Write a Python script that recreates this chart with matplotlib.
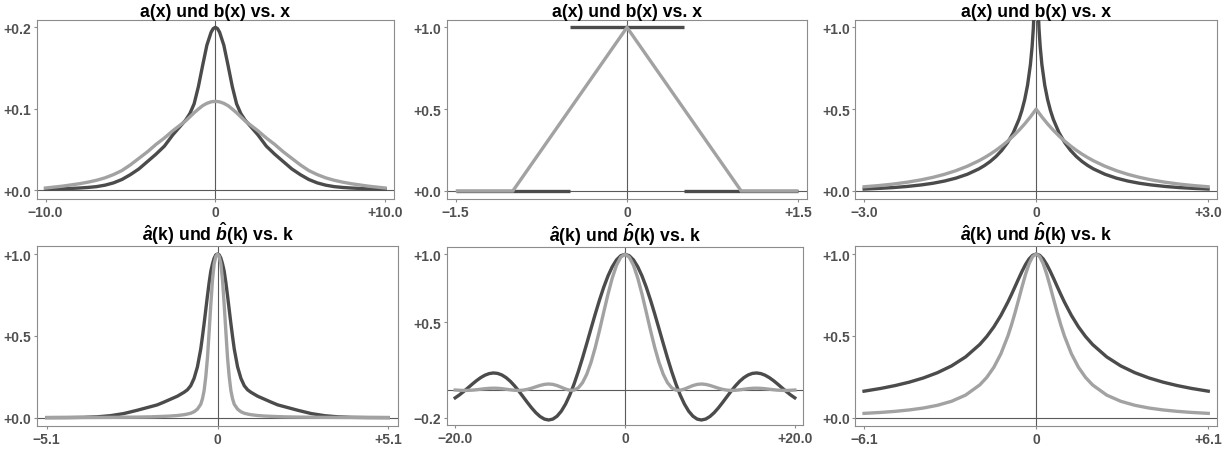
import numpy as np
import matplotlib
matplotlib.use('Agg')
import matplotlib.pyplot as plt

plt.rcParams['font.family'] = ['Liberation Sans', 'DejaVu Sans']
plt.rcParams['mathtext.fontset'] = 'custom'
plt.rcParams['mathtext.rm'] = 'Liberation Sans:bold'
plt.rcParams['mathtext.it'] = 'Liberation Sans:italic:bold'
plt.rcParams['mathtext.bf'] = 'Liberation Sans:bold'

# ---------------- data (even curves given for x >= 0, mirrored when drawn) ----------------
titles_top = ["a(x) und b(x) vs. x"] * 3
titles_bottom = [r"$\hat{a}$(k) und $\hat{b}$(k) vs. k"] * 3

# panel 1
p1_x = [0, 0.125, 0.25, 0.5, 0.75, 1.0, 1.25, 1.5, 1.75, 2.0, 2.5, 3.0, 3.5, 4.0, 4.5,
        5.0, 5.5, 6.0, 6.5, 7.0, 7.5, 8.0, 9.0, 10.0]
p1_a = [0.200, 0.1985, 0.194, 0.178, 0.153, 0.127, 0.106, 0.094, 0.086, 0.080, 0.068,
        0.054, 0.044, 0.035, 0.026, 0.019, 0.013, 0.0088, 0.0060, 0.0042, 0.0032,
        0.0025, 0.0015, 0.0010]
p1_b = [0.109, 0.1088, 0.1084, 0.1066, 0.1037, 0.0995, 0.095, 0.090, 0.085, 0.081,
        0.073, 0.064, 0.056, 0.047, 0.039, 0.031, 0.024, 0.019, 0.015, 0.012, 0.0097,
        0.0078, 0.0048, 0.0025]
p1_xticks = [-10, 0, 10]
p1_xlabels = ["\u221210.0", "0", "+10.0"]
p1_yticks = [0.0, 0.1, 0.2]
p1_ylabels = ["+0.0", "+0.1", "+0.2"]

# panel 2 (piecewise, None = break)
p2_a_x = [-1.5, -0.5, None, -0.5, 0.5, None, 0.5, 1.5]
p2_a_y = [0.0, 0.0, None, 1.0, 1.0, None, 0.0, 0.0]
p2_b_x = [-1.5, -1.0, 0.0, 1.0, 1.5]
p2_b_y = [0.0, 0.0, 1.0, 0.0, 0.0]
p2_xticks = [-1.5, 0, 1.5]
p2_xlabels = ["\u22121.5", "0", "+1.5"]
p2_yticks = [0.0, 0.5, 1.0]
p2_ylabels = ["+0.0", "+0.5", "+1.0"]

# panel 3
p3_ax = [0, 0.01, 0.02, 0.03, 0.05, 0.07, 0.1, 0.15, 0.2, 0.25, 0.3, 0.4, 0.5, 0.6, 0.7,
         0.8, 0.9, 1.0, 1.2, 1.4, 1.6, 1.8, 2.0, 2.25, 2.5, 2.75, 3.0]
p3_a = [None, 1.503, 1.282, 1.153, 0.9905, 0.885, 0.7726, 0.6462, 0.5579, 0.4907,
        0.4369, 0.3548, 0.2943, 0.2475, 0.2102, 0.1799, 0.1549, 0.1340, 0.1014, 0.0776,
        0.0598, 0.0464, 0.0363, 0.0268, 0.0198, 0.0148, 0.0110]
p3_bx = [0, 0.1, 0.2, 0.3, 0.4, 0.5, 0.6, 0.7, 0.8, 0.9, 1.0, 1.2, 1.4, 1.6, 1.8, 2.0,
         2.25, 2.5, 2.75, 3.0]
p3_b = [0.5, 0.4524, 0.4094, 0.3704, 0.3352, 0.3033, 0.2744, 0.2483, 0.2247, 0.2033,
        0.1839, 0.1506, 0.1233, 0.1009, 0.0826, 0.0677, 0.0527, 0.0410, 0.0320, 0.0249]
p3_xticks = [-3, 0, 3]
p3_xlabels = ["\u22123.0", "0", "+3.0"]
p3_yticks = [0.0, 0.5, 1.0]
p3_ylabels = ["+0.0", "+0.5", "+1.0"]

# panel 4
p4_k = [0, 0.05, 0.1, 0.15, 0.2, 0.25, 0.3, 0.35, 0.4, 0.45, 0.5, 0.6, 0.7, 0.8, 0.9,
        1.0, 1.2, 1.4, 1.6, 1.8, 2.0, 2.4, 2.8, 3.2, 3.6, 4.0, 4.5, 5.1]
p4_a = [1.0, 0.995, 0.975, 0.94, 0.895, 0.825, 0.745, 0.66, 0.575, 0.495, 0.42, 0.31,
        0.24, 0.195, 0.17, 0.155, 0.131, 0.113, 0.095, 0.078, 0.067, 0.045, 0.025,
        0.012, 0.005, 0.002, 0.0008, 0.0003]
p4_b = [1.0, 0.985, 0.94, 0.84, 0.69, 0.525, 0.365, 0.25, 0.165, 0.115, 0.082, 0.052,
        0.036, 0.027, 0.022, 0.018, 0.013, 0.010, 0.008, 0.0065, 0.005, 0.0035, 0.0025,
        0.0018, 0.0013, 0.001, 0.0007, 0.0005]
p4_xticks = [-5.1, 0, 5.1]
p4_xlabels = ["\u22125.1", "0", "+5.1"]
p4_yticks = [0.0, 0.5, 1.0]
p4_ylabels = ["+0.0", "+0.5", "+1.0"]

# panel 5
p5_k = [0, 0.5, 1, 1.5, 2, 2.5, 3, 3.5, 4, 4.5, 5, 5.5, 6, 6.5, 7, 7.5, 8, 8.5, 9, 9.5,
        10, 10.5, 11, 11.5, 12, 12.5, 13, 13.5, 14, 14.5, 15, 15.5, 16, 16.5, 17, 17.5,
        18, 18.5, 19, 19.5, 20]
p5_a = [1.0, 0.98962, 0.95885, 0.90885, 0.84147, 0.75919, 0.66500, 0.56228, 0.45465,
        0.34581, 0.23939, 0.13879, 0.04704, -0.03329, -0.10022, -0.15242, -0.18920,
        -0.21058, -0.21723, -0.21038, -0.19178, -0.16361, -0.12828, -0.08840, -0.04657,
        -0.00531, 0.03310, 0.06667, 0.09386, 0.11353, 0.12507, 0.12834, 0.12367,
        0.11183, 0.09394, 0.07139, 0.04579, 0.01880, -0.00791, -0.03277, -0.05440]
p5_b = [1.0, 0.97935, 0.91939, 0.82601, 0.70807, 0.57637, 0.44223, 0.31616, 0.20671,
        0.11958, 0.05731, 0.01926, 0.00221, 0.00111, 0.01004, 0.02323, 0.03580, 0.04434,
        0.04719, 0.04426, 0.03678, 0.02677, 0.01646, 0.00781, 0.00217, 0.00003, 0.00110,
        0.00444, 0.00881, 0.01289, 0.01564, 0.01647, 0.01529, 0.01251, 0.00882, 0.00510,
        0.00210, 0.00035, 0.00006, 0.00107, 0.00296]
p5_xticks = [-20, 0, 20]
p5_xlabels = ["\u221220.0", "0", "+20.0"]
p5_yticks = [-0.2, 0.5, 1.0]
p5_ylabels = ["\u22120.2", "+0.5", "+1.0"]

# panel 6
p6_k = [0, 0.125, 0.25, 0.375, 0.5, 0.625, 0.75, 0.875, 1.0, 1.25, 1.5, 1.75, 2.0, 2.5,
        3.0, 3.5, 4.0, 4.5, 5.0, 5.5, 6.1]
p6_a = [1.0, 0.9923, 0.9701, 0.9363, 0.8944, 0.8480, 0.8, 0.7526, 0.7071, 0.6247,
        0.5547, 0.4961, 0.4472, 0.3714, 0.3162, 0.2747, 0.2425, 0.2169, 0.1961, 0.1789,
        0.1618]
p6_b = [1.0, 0.9846, 0.9412, 0.8767, 0.8, 0.7191, 0.64, 0.5664, 0.5, 0.3902, 0.3077,
        0.2462, 0.2, 0.1379, 0.1, 0.0755, 0.0588, 0.0471, 0.0385, 0.0320, 0.0262]
p6_xticks = [-6.1, 0, 6.1]
p6_xlabels = ["\u22126.1", "0", "+6.1"]
p6_yticks = [0.0, 0.5, 1.0]
p6_ylabels = ["+0.0", "+0.5", "+1.0"]

# ---------------- styling ----------------
DARK = '#4b4b4b'
LIGHT = '#a2a2a2'
LW = 2.4
W, H = 1232, 452


def mirror(x, y):
    x = np.asarray(x, dtype=float)
    y = np.asarray(y, dtype=float)
    return np.concatenate([-x[:0:-1], x]), np.concatenate([y[:0:-1], y])


def make_axes(box):
    l, r, t, b = box
    return fig.add_axes([l / W, (H - b) / H, (r - l) / W, (b - t) / H])


def style(ax, title, xlim, ylim, xt, xl, yt, yl):
    ax.set_xlim(*xlim)
    ax.set_ylim(*ylim)
    ax.axhline(0, color='#5a5a5a', lw=0.8, zorder=1)
    ax.axvline(0, color='#5a5a5a', lw=0.8, zorder=1)
    for s in ax.spines.values():
        s.set_color('#8c8c8c')
        s.set_linewidth(0.8)
    ax.set_xticks(xt)
    ax.set_xticklabels(xl, fontweight='bold')
    ax.set_yticks(yt)
    ax.set_yticklabels(yl, fontweight='bold')
    ax.tick_params(direction='out', length=2.5, width=0.8, color='#8c8c8c',
                   labelsize=10, labelcolor='#505050', pad=1.5)
    ax.set_title(title, fontsize=12.7, fontweight='bold', pad=2.5, color='black')


fig = plt.figure(figsize=(W / 100, H / 100), dpi=100)

boxes = [
    (36.7, 394.0, 20.7, 200.0),
    (446.7, 807.3, 20.7, 200.0),
    (855.3, 1217.0, 20.7, 200.0),
    (36.7, 398.3, 246.7, 427.0),
    (446.7, 803.3, 247.7, 426.0),
    (855.3, 1217.0, 246.7, 427.0),
]
axs = [make_axes(b) for b in boxes]

# panel 1
ax = axs[0]
x, y = mirror(p1_x, p1_a)
ax.plot(x, y, color=DARK, lw=LW, zorder=3)
x, y = mirror(p1_x, p1_b)
ax.plot(x, y, color=LIGHT, lw=LW, zorder=4)
style(ax, titles_top[0], (-10.52, 10.52), (-0.011, 0.2094),
      p1_xticks, p1_xlabels, p1_yticks, p1_ylabels)

# panel 2
ax = axs[1]
ax.plot(np.array(p2_a_x, dtype=float), np.array(p2_a_y, dtype=float), color=DARK,
        lw=LW, zorder=3, solid_capstyle='butt')
ax.plot(p2_b_x, p2_b_y, color=LIGHT, lw=LW, zorder=4, solid_capstyle='butt',
        solid_joinstyle='miter')
style(ax, titles_top[1], (-1.579, 1.579), (-0.049, 1.047),
      p2_xticks, p2_xlabels, p2_yticks, p2_ylabels)

# panel 3
ax = axs[2]
x, y = mirror(p3_ax, p3_a)
ax.plot(x, y, color=DARK, lw=LW, zorder=3)
x, y = mirror(p3_bx, p3_b)
ax.plot(x, y, color=LIGHT, lw=LW, zorder=4)
style(ax, titles_top[2], (-3.155, 3.155), (-0.05, 1.047),
      p3_xticks, p3_xlabels, p3_yticks, p3_ylabels)

# panel 4
ax = axs[3]
x, y = mirror(p4_k, p4_a)
ax.plot(x, y, color=DARK, lw=LW, zorder=3)
x, y = mirror(p4_k, p4_b)
ax.plot(x, y, color=LIGHT, lw=LW, zorder=4)
style(ax, titles_bottom[0], (-5.40, 5.40), (-0.051, 1.051),
      p4_xticks, p4_xlabels, p4_yticks, p4_ylabels)

# panel 5
ax = axs[4]
x, y = mirror(p5_k, p5_a)
ax.plot(x, y, color=DARK, lw=LW, zorder=3)
x, y = mirror(p5_k, p5_b)
ax.plot(x, y, color=LIGHT, lw=LW, zorder=4)
style(ax, titles_bottom[1], (-21.0, 21.0), (-0.254, 1.056),
      p5_xticks, p5_xlabels, p5_yticks, p5_ylabels)

# panel 6
ax = axs[5]
x, y = mirror(p6_k, p6_a)
ax.plot(x, y, color=DARK, lw=LW, zorder=3)
x, y = mirror(p6_k, p6_b)
ax.plot(x, y, color=LIGHT, lw=LW, zorder=4)
style(ax, titles_bottom[2], (-6.41, 6.41), (-0.051, 1.051),
      p6_xticks, p6_xlabels, p6_yticks, p6_ylabels)

fig.savefig('out.png', dpi=100, facecolor='white')
